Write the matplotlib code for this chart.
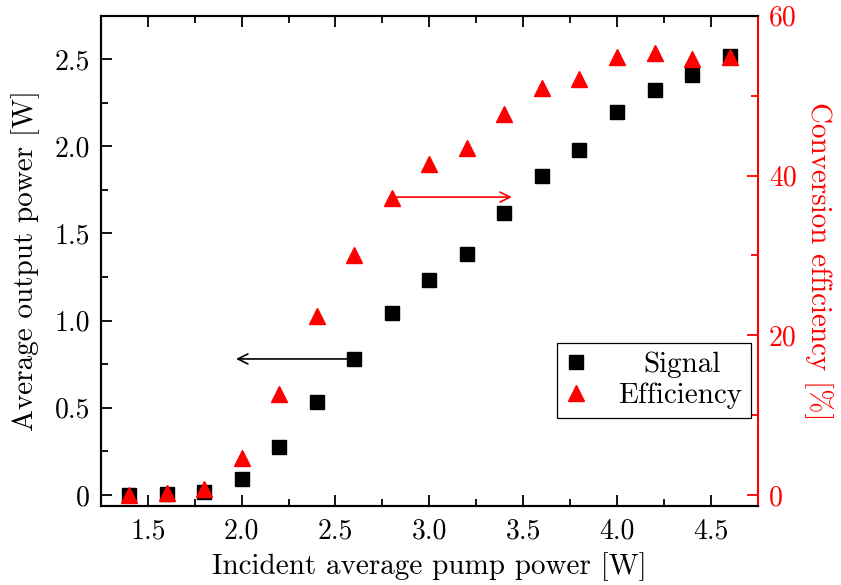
import matplotlib
matplotlib.use("Agg")
import matplotlib.pyplot as plt
from matplotlib.ticker import FixedLocator, FixedFormatter, MultipleLocator

# ---- data ----
pump_power = [1.4, 1.6, 1.8, 2.0, 2.2, 2.4, 2.6, 2.8, 3.0, 3.2, 3.4, 3.6, 3.8, 4.0, 4.2, 4.4, 4.6]
signal_power = [0.0, 0.005, 0.02, 0.092, 0.275, 0.535, 0.78, 1.044, 1.235, 1.38, 1.617, 1.83, 1.98,
                2.196, 2.32, 2.41, 2.515]
efficiency = [0.0, 0.2, 0.8, 4.6, 12.7, 22.4, 30.1, 37.2, 41.5, 43.4, 47.7, 50.9, 52.1,
              54.9, 55.4, 54.6, 54.8]

x_ticks = [1.5, 2.0, 2.5, 3.0, 3.5, 4.0, 4.5]
x_tick_labels = ["1.5", "2.0", "2.5", "3.0", "3.5", "4.0", "4.5"]
y_ticks = [0, 0.5, 1.0, 1.5, 2.0, 2.5]
y_tick_labels = ["0", "0.5", "1.0", "1.5", "2.0", "2.5"]
y2_ticks = [0, 20, 40, 60]
y2_tick_labels = ["0", "20", "40", "60"]

plt.rcParams["font.family"] = ["cmr10", "DejaVu Serif"]
plt.rcParams["mathtext.fontset"] = "cm"
plt.rcParams["axes.unicode_minus"] = False

fig = plt.figure(figsize=(8.41, 5.85), dpi=100)
ax = fig.add_axes([0.120, 0.135, 0.781, 0.838])
ax2 = ax.twinx()

FS = 21
TFS = 20

l1, = ax.plot(pump_power, signal_power, linestyle="none", marker="s", markersize=10,
              color="black", label="Signal", zorder=3)
l2, = ax2.plot(pump_power, efficiency, linestyle="none", marker="^", markersize=12,
               color="red", label="Efficiency", zorder=3)

ax.set_xlim(1.25, 4.75)
ax.set_ylim(-0.063, 2.747)
ax2.set_ylim(-1.38, 60)

ax.xaxis.set_major_locator(FixedLocator(x_ticks))
ax.xaxis.set_major_formatter(FixedFormatter(x_tick_labels))
ax.xaxis.set_minor_locator(MultipleLocator(0.25))
ax.yaxis.set_major_locator(FixedLocator(y_ticks))
ax.yaxis.set_major_formatter(FixedFormatter(y_tick_labels))
ax.yaxis.set_minor_locator(MultipleLocator(0.25))
ax2.yaxis.set_major_locator(FixedLocator(y2_ticks))
ax2.yaxis.set_major_formatter(FixedFormatter(y2_tick_labels))
ax2.yaxis.set_minor_locator(MultipleLocator(10))

ax.tick_params(axis="x", which="both", direction="in", top=True, bottom=True,
               labelsize=TFS, pad=9, width=1.3, color="black")
ax.tick_params(axis="x", which="major", length=8)
ax.tick_params(axis="x", which="minor", length=5)
ax.tick_params(axis="y", which="both", direction="in", left=True, right=False,
               labelsize=TFS, pad=8, width=1.3)
ax.tick_params(axis="y", which="major", length=8)
ax.tick_params(axis="y", which="minor", length=5)
ax2.tick_params(axis="y", which="both", direction="in", right=True, left=False,
                labelsize=TFS, pad=8, width=1.3, colors="red")
ax2.tick_params(axis="y", which="major", length=8)
ax2.tick_params(axis="y", which="minor", length=5)

for sp in ax.spines.values():
    sp.set_linewidth(1.5)
for sp in ax2.spines.values():
    sp.set_linewidth(1.5)
ax2.spines["right"].set_color("red")
ax.spines["right"].set_visible(False)

ax.set_xlabel("Incident average pump power [W]", fontsize=FS, labelpad=5)
ax.set_ylabel("Average output power [W]", fontsize=FS, labelpad=10)
ax2.set_ylabel("Conversion efficiency [%]", fontsize=FS, color="red", rotation=270,
               labelpad=26)

ax.annotate("", xy=(1.97, 0.78), xytext=(2.6, 0.78),
            arrowprops=dict(arrowstyle="->", color="black", lw=1.2, mutation_scale=18,
                            shrinkA=0, shrinkB=0))
ax2.annotate("", xy=(3.44, 37.3), xytext=(2.8, 37.3),
             arrowprops=dict(arrowstyle="->", color="red", lw=1.2, mutation_scale=18,
                             shrinkA=0, shrinkB=0))

leg = ax2.legend([l1, l2], ["Signal", "Efficiency"], loc="upper left",
                 bbox_to_anchor=(0.694, 0.333), fontsize=FS, frameon=True,
                 fancybox=False, edgecolor="black", framealpha=1,
                 handlelength=0.7, handletextpad=1.1, borderpad=0.3,
                 labelspacing=0.15, borderaxespad=0)
leg.get_frame().set_linewidth(0.9)
texts = leg.get_texts()
texts[0].set_x(25)

fig.savefig("out.png", dpi=100)
